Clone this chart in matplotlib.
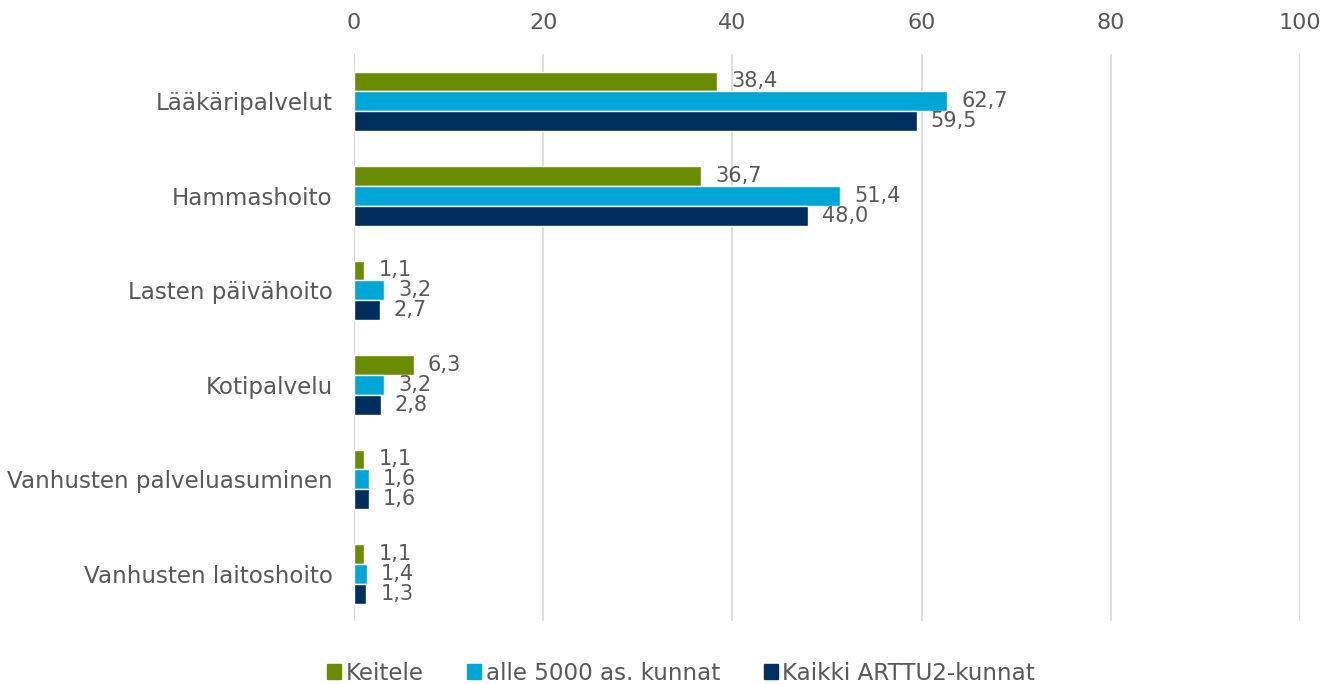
import numpy as np
import matplotlib
matplotlib.use("Agg")
import matplotlib.pyplot as plt
from matplotlib.patches import Patch

categories = ["Lääkäripalvelut", "Hammashoito", "Lasten päivähoito", "Kotipalvelu",
              "Vanhusten palveluasuminen", "Vanhusten laitoshoito"]
series_names = ["Keitele", "alle 5000 as. kunnat", "Kaikki ARTTU2-kunnat"]
keitele = [38.4, 36.7, 1.1, 6.3, 1.1, 1.1]
alle5000 = [62.7, 51.4, 3.2, 3.2, 1.6, 1.4]
kaikki = [59.5, 48.0, 2.7, 2.8, 1.6, 1.3]
xticks = [0, 20, 40, 60, 80, 100]

COLORS = ["#6A8C00", "#00A6D6", "#002F5F"]
TXT = "#595959"
GRID = "#D9D9D9"

plt.rcParams["font.family"] = ["DejaVu Sans"]

fig = plt.figure(figsize=(13.3, 6.84), dpi=100)
ax = fig.add_axes([0.2662, 0.092, 0.7112, 0.829])

y = np.arange(len(categories))
h = 0.21
for i, (vals, col) in enumerate(zip([keitele, alle5000, kaikki], COLORS)):
    pos = y + (i - 1) * h
    ax.barh(pos, vals, height=h, color=col, edgecolor="white", linewidth=1, zorder=3)
    for p, v in zip(pos, vals):
        ax.annotate(f"{v:.1f}".replace(".", ","), xy=(v, p), xytext=(10, 0),
                    textcoords="offset points", ha="left", va="center",
                    fontsize=15, color=TXT)

ax.set_xlim(0, 100)
ax.set_ylim(len(categories) - 0.5, -0.5)
ax.set_xticks(xticks)
ax.xaxis.tick_top()
ax.tick_params(axis="x", length=0, pad=15, labelsize=16, labelcolor=TXT)
ax.tick_params(axis="y", length=0, pad=15.5, labelsize=16.6, labelcolor=TXT)
ax.set_yticks(y)
ax.set_yticklabels(categories)
ax.grid(axis="x", color=GRID, linewidth=1.2, zorder=0)
for s in ax.spines.values():
    s.set_visible(False)
ax.axvline(0, color=GRID, linewidth=1.2, zorder=1)

handles = [Patch(color=c, label=n) for c, n in zip(COLORS, series_names)]
fig.legend(handles=handles, loc="center", bbox_to_anchor=(0.512, 0.016), ncol=3,
           frameon=False, fontsize=16.6, labelcolor=TXT, handlelength=0.6,
           handleheight=0.6, handletextpad=0.2, columnspacing=1.9)

fig.savefig("out.png", dpi=100, facecolor="white")
